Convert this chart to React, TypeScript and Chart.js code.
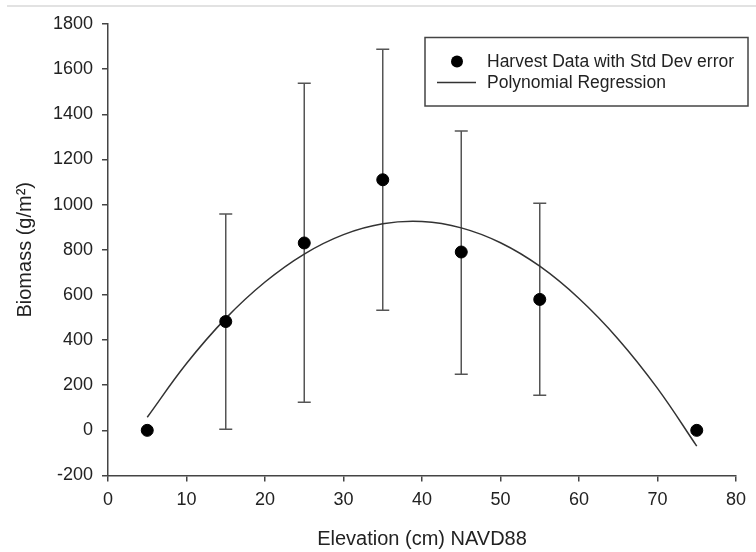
import React, { useEffect, useRef } from "react";
import { Chart, registerables } from "chart.js";

Chart.register(...registerables);

// Harvest data (elevation cm NAVD88 vs biomass g/m2)
const elevation = [5, 15, 25, 35, 45, 55, 75];
const biomass = [0, 482, 830, 1110, 790, 580, 0];
const errLow = [null, 5, 125, 532, 249, 156, null];
const errHigh = [null, 958, 1537, 1688, 1326, 1006, null];

// Polynomial regression curve
const curveX = [5, 10, 15, 20, 25, 30, 35, 40, 45, 50, 55, 60, 65, 70, 75];
const curveY = [58, 296, 496, 657, 781, 867, 915, 925, 897, 831, 727, 584, 404, 186, -70];

const xTicks = [0, 10, 20, 30, 40, 50, 60, 70, 80];
const yTicks = [-200, 0, 200, 400, 600, 800, 1000, 1200, 1400, 1600, 1800];

const seriesLabels = ["Harvest Data with Std Dev error", "Polynomial Regression"];

const FONT = "'Liberation Sans', Arial, sans-serif";

const errorBarPlugin = {
  id: "errorBars",
  beforeDatasetsDraw(chart: any) {
    const { ctx, scales } = chart;
    const xs = scales.x;
    const ys = scales.y;
    ctx.save();
    ctx.strokeStyle = "#555";
    ctx.lineWidth = 1.5;
    for (let i = 0; i < elevation.length; i++) {
      const lo = errLow[i];
      const hi = errHigh[i];
      if (lo == null || hi == null) continue;
      const px = xs.getPixelForValue(elevation[i]);
      const pl = ys.getPixelForValue(lo);
      const ph = ys.getPixelForValue(hi);
      ctx.beginPath();
      ctx.moveTo(px, pl);
      ctx.lineTo(px, ph);
      ctx.moveTo(px - 6.5, pl);
      ctx.lineTo(px + 6.5, pl);
      ctx.moveTo(px - 6.5, ph);
      ctx.lineTo(px + 6.5, ph);
      ctx.stroke();
    }
    ctx.restore();
  },
};

const legendPlugin = {
  id: "boxLegend",
  afterDraw(chart: any) {
    const { ctx } = chart;
    ctx.save();
    ctx.fillStyle = "#fff";
    ctx.fillRect(425, 37.5, 323, 68.5);
    ctx.strokeStyle = "#444";
    ctx.lineWidth = 1.5;
    ctx.strokeRect(425, 37.5, 323, 68.5);
    ctx.fillStyle = "#000";
    ctx.beginPath();
    ctx.arc(457, 61.5, 6, 0, Math.PI * 2);
    ctx.fill();
    ctx.strokeStyle = "#333";
    ctx.lineWidth = 1.5;
    ctx.beginPath();
    ctx.moveTo(437, 82.5);
    ctx.lineTo(476, 82.5);
    ctx.stroke();
    ctx.fillStyle = "#222";
    ctx.font = `17.5px ${FONT}`;
    ctx.textBaseline = "middle";
    ctx.textAlign = "left";
    ctx.fillText(seriesLabels[0], 487, 62);
    ctx.fillText(seriesLabels[1], 487, 83);
    ctx.restore();
  },
};

export default function App() {
  const ref = useRef<HTMLCanvasElement | null>(null);

  useEffect(() => {
    if (!ref.current) return;
    const chart = new Chart(ref.current, {
      type: "scatter",
      data: {
        datasets: [
          {
            type: "line",
            label: seriesLabels[1],
            data: curveX.map((x, i) => ({ x, y: curveY[i] })),
            borderColor: "#333",
            borderWidth: 1.5,
            pointRadius: 0,
            fill: false,
            tension: 0.4,
            order: 2,
          } as any,
          {
            type: "scatter",
            label: seriesLabels[0],
            data: elevation.map((x, i) => ({ x, y: biomass[i] })),
            backgroundColor: "#000",
            borderColor: "#000",
            pointRadius: 6,
            pointHoverRadius: 6,
            order: 1,
          },
        ],
      },
      options: {
        responsive: false,
        animation: false,
        layout: { padding: { left: 0, right: 20, top: 24, bottom: 0 } },
        plugins: {
          legend: { display: false },
          tooltip: { enabled: false },
        },
        scales: {
          x: {
            type: "linear",
            min: 0,
            max: 80,
            afterFit(scale: any) {
              scale.height = 76.5;
            },
            afterBuildTicks(scale: any) {
              scale.ticks = xTicks.map((v) => ({ value: v }));
            },
            grid: {
              display: true,
              drawOnChartArea: false,
              drawTicks: true,
              tickLength: 6,
              color: "#444",
              lineWidth: 1.5,
            },
            border: { display: true, color: "#444", width: 1.5 },
            ticks: {
              color: "#222",
              font: { family: FONT, size: 18 },
              padding: 8,
              maxRotation: 0,
              callback: (v: any) => String(v),
            },
            title: {
              display: true,
              text: "Elevation (cm) NAVD88",
              color: "#222",
              font: { family: FONT, size: 20 },
              padding: { top: 0, bottom: 1 },
            },
          },
          y: {
            type: "linear",
            min: -200,
            max: 1800,
            afterFit(scale: any) {
              scale.width = 108;
            },
            afterBuildTicks(scale: any) {
              scale.ticks = yTicks.map((v) => ({ value: v }));
            },
            grid: {
              display: true,
              drawOnChartArea: false,
              drawTicks: true,
              tickLength: 6,
              color: "#444",
              lineWidth: 1.5,
            },
            border: { display: true, color: "#444", width: 1.5 },
            ticks: {
              color: "#222",
              font: { family: FONT, size: 18 },
              padding: 9,
              callback: (v: any) => String(v),
            },
            title: {
              display: true,
              text: "Biomass (g/m²)",
              color: "#222",
              font: { family: FONT, size: 20 },
              padding: { top: 13, bottom: 0 },
            },
          },
        },
      },
      plugins: [errorBarPlugin, legendPlugin],
    });
    return () => chart.destroy();
  }, []);

  return (
    <div
      style={{
        position: "fixed",
        left: 0,
        top: 0,
        width: 756,
        height: 552,
        background: "#fff",
      }}
    >
      <div
        style={{
          position: "absolute",
          left: 7,
          top: 5,
          width: 749,
          height: 2,
          background: "#e2e2e2",
        }}
      />
      <canvas
        ref={ref}
        width={756}
        height={552}
        style={{ position: "absolute", left: 0, top: 0, width: 756, height: 552 }}
      />
    </div>
  );
}
